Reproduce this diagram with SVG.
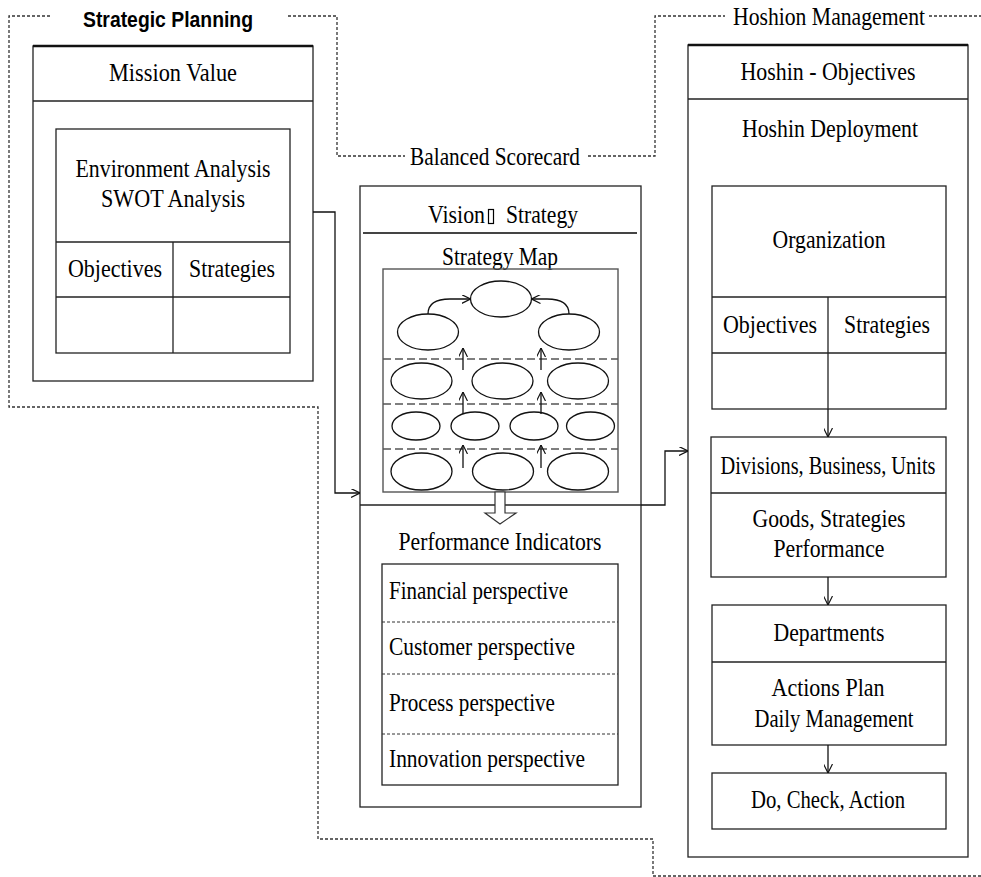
<svg xmlns="http://www.w3.org/2000/svg" width="981" height="877" viewBox="0 0 981 877">
  <style>
    .t{font-family:"Liberation Serif","Times New Roman",serif;font-size:26px;fill:#000}
    .m{text-anchor:middle}
    .title{font-family:"Liberation Sans",Arial,sans-serif;font-weight:bold;font-size:22px;fill:#000;text-anchor:middle}
    .box{fill:none;stroke:#222;stroke-width:1.3}
    .gbox{fill:none;stroke:#555;stroke-width:1.4}
    .heavy{stroke:#111;stroke-width:2.4}
    .frame{fill:none;stroke:#333;stroke-width:1.3;stroke-dasharray:3 2}
    .lane{stroke:#555;stroke-width:1.6;stroke-dasharray:8 4}
    .fine{stroke:#333;stroke-width:1;stroke-dasharray:3 2}
    .ov{fill:#fff;stroke:#111;stroke-width:1.3}
    .link{fill:none;stroke:#111;stroke-width:1.3}
  </style>
  <defs>
    <marker id="arr" viewBox="0 0 10 10" refX="10" refY="5" markerWidth="9" markerHeight="9" markerUnits="userSpaceOnUse" orient="auto">
      <path d="M0,0 L10,5 L0,10" fill="none" stroke="#111" stroke-width="1.3"/>
    </marker>
  </defs>
  <rect width="981" height="877" fill="#fff"/>

  <!-- dashed grouping frames -->
  <g id="frames">
    <path class="frame" d="M50,16 H9 V407 H318 V839 H653 V876 H981"/>
    <path class="frame" d="M288,16 H337 V156 H405"/>
    <path class="frame" d="M588,156 H655 V16 H725"/>
    <path class="frame" d="M929,16 H981"/>
    <text class="title" x="168" y="27" textLength="170" lengthAdjust="spacingAndGlyphs">Strategic Planning</text>
    <text class="t m" x="495" y="165" textLength="170" lengthAdjust="spacingAndGlyphs">Balanced Scorecard</text>
    <text class="t m" x="829" y="25" textLength="192" lengthAdjust="spacingAndGlyphs">Hoshion Management</text>
  </g>

  <!-- strategic planning -->
  <g id="strategic-planning">
    <rect class="box" x="33" y="46" width="280" height="335"/>
    <line class="heavy" x1="33" y1="46" x2="313" y2="46"/>
    <line class="box" x1="33" y1="101" x2="313" y2="101"/>
    <text class="t m" x="173" y="81" textLength="128" lengthAdjust="spacingAndGlyphs">Mission Value</text>
    <rect class="box" x="56" y="129" width="234" height="224"/>
    <line class="box" x1="56" y1="242" x2="290" y2="242"/>
    <line class="box" x1="56" y1="297" x2="290" y2="297"/>
    <line class="box" x1="173" y1="242" x2="173" y2="353"/>
    <text class="t m" x="173" y="177" textLength="195" lengthAdjust="spacingAndGlyphs">Environment Analysis</text>
    <text class="t m" x="173" y="207" textLength="144" lengthAdjust="spacingAndGlyphs">SWOT Analysis</text>
    <text class="t m" x="115" y="277" textLength="94" lengthAdjust="spacingAndGlyphs">Objectives</text>
    <text class="t m" x="232" y="277" textLength="86" lengthAdjust="spacingAndGlyphs">Strategies</text>
  </g>

  <!-- balanced scorecard -->
  <g id="balanced-scorecard">
    <rect class="box" x="360" y="186" width="281" height="621"/>
    <text class="t" x="428" y="223" font-size="22" textLength="57" lengthAdjust="spacingAndGlyphs">Vision</text>
    <!-- unrenderable separator glyph box -->
    <rect x="488.5" y="209.5" width="5" height="14" fill="none" stroke="#000" stroke-width="1.2"/>
    <text class="t" x="506" y="223" font-size="22" textLength="72" lengthAdjust="spacingAndGlyphs">Strategy</text>
    <line x1="363" y1="233" x2="637" y2="233" stroke="#444" stroke-width="2"/>
    <text class="t m" x="500" y="265" textLength="116" lengthAdjust="spacingAndGlyphs">Strategy Map</text>

    <g id="strategy-map">
      <rect class="gbox" x="383" y="269" width="235" height="223"/>
      <line class="lane" x1="383" y1="359" x2="618" y2="359"/>
      <line class="lane" x1="383" y1="404" x2="618" y2="404"/>
      <line class="lane" x1="383" y1="449" x2="618" y2="449"/>
      <!-- objectives -->
      <ellipse class="ov" cx="501" cy="299" rx="30.5" ry="18"/>
      <ellipse class="ov" cx="428" cy="332" rx="30.5" ry="18"/>
      <ellipse class="ov" cx="569" cy="332" rx="30.5" ry="18"/>
      <ellipse class="ov" cx="421.5" cy="381" rx="30.5" ry="18"/>
      <ellipse class="ov" cx="502.5" cy="381" rx="30.5" ry="18"/>
      <ellipse class="ov" cx="578" cy="381" rx="30.5" ry="18"/>
      <ellipse class="ov" cx="416" cy="426" rx="24" ry="14"/>
      <ellipse class="ov" cx="475" cy="426" rx="24" ry="14"/>
      <ellipse class="ov" cx="534" cy="426" rx="24" ry="14"/>
      <ellipse class="ov" cx="590.5" cy="426" rx="24" ry="14"/>
      <ellipse class="ov" cx="421.5" cy="471.5" rx="30.5" ry="18.5"/>
      <ellipse class="ov" cx="503" cy="471.5" rx="30.5" ry="18.5"/>
      <ellipse class="ov" cx="578" cy="471.5" rx="30.5" ry="18.5"/>
      <!-- cause and effect links -->
      <path class="link" d="M428,314 C428,303 436,299 450,299 L470.5,299" marker-end="url(#arr)"/>
      <path class="link" d="M569,314 C569,303 561,299 547,299 L531.5,299" marker-end="url(#arr)"/>
      <line class="link" x1="463" y1="370" x2="463" y2="348" marker-end="url(#arr)"/>
      <line class="link" x1="541" y1="370" x2="541" y2="348" marker-end="url(#arr)"/>
      <line class="link" x1="463" y1="414" x2="463" y2="392" marker-end="url(#arr)"/>
      <line class="link" x1="541" y1="414" x2="541" y2="392" marker-end="url(#arr)"/>
      <line class="link" x1="463" y1="468" x2="463" y2="445" marker-end="url(#arr)"/>
      <line class="link" x1="541" y1="468" x2="541" y2="445" marker-end="url(#arr)"/>
    </g>

    <line class="box" x1="360" y1="505" x2="641" y2="505"/>
    <polygon points="495,492 505,492 505,513 516,513 500,524 485,513 495,513" fill="#fff" stroke="#333" stroke-width="1.2"/>
    <text class="t m" x="500" y="550" textLength="203" lengthAdjust="spacingAndGlyphs">Performance Indicators</text>

    <g id="performance-indicators">
      <rect class="box" x="382" y="564" width="236" height="221"/>
      <line class="fine" x1="382" y1="622" x2="618" y2="622"/>
      <line class="fine" x1="382" y1="674" x2="618" y2="674"/>
      <line class="fine" x1="382" y1="734" x2="618" y2="734"/>
      <text class="t" x="389" y="599" textLength="179" lengthAdjust="spacingAndGlyphs">Financial perspective</text>
      <text class="t" x="389" y="655" textLength="186" lengthAdjust="spacingAndGlyphs">Customer perspective</text>
      <text class="t" x="389" y="711" textLength="166" lengthAdjust="spacingAndGlyphs">Process perspective</text>
      <text class="t" x="389" y="767" textLength="196" lengthAdjust="spacingAndGlyphs">Innovation perspective</text>
    </g>
  </g>

  <!-- hoshin management -->
  <g id="hoshin-management">
    <rect class="box" x="688" y="45" width="280" height="812" stroke="#444"/>
    <line class="heavy" x1="688" y1="45" x2="968" y2="45"/>
    <line class="box" x1="688" y1="99" x2="968" y2="99"/>
    <text class="t m" x="828" y="80" textLength="175" lengthAdjust="spacingAndGlyphs">Hoshin - Objectives</text>
    <text class="t m" x="830" y="137" textLength="176" lengthAdjust="spacingAndGlyphs">Hoshin Deployment</text>

    <g id="organization">
      <rect class="box" x="712" y="186" width="234" height="223"/>
      <line class="box" x1="712" y1="297" x2="946" y2="297"/>
      <line class="box" x1="712" y1="353" x2="946" y2="353"/>
      <line class="box" x1="828" y1="297" x2="828" y2="409"/>
      <text class="t m" x="829" y="248" textLength="113" lengthAdjust="spacingAndGlyphs">Organization</text>
      <text class="t m" x="770" y="333" textLength="94" lengthAdjust="spacingAndGlyphs">Objectives</text>
      <text class="t m" x="887" y="333" textLength="86" lengthAdjust="spacingAndGlyphs">Strategies</text>
    </g>

    <g id="divisions">
      <rect class="box" x="711" y="437" width="235" height="140"/>
      <line class="box" x1="711" y1="493" x2="946" y2="493"/>
      <text class="t m" x="828" y="474" font-size="20" textLength="215" lengthAdjust="spacingAndGlyphs">Divisions, Business, Units</text>
      <text class="t m" x="829" y="527" textLength="153" lengthAdjust="spacingAndGlyphs">Goods, Strategies</text>
      <text class="t m" x="829" y="557" textLength="111" lengthAdjust="spacingAndGlyphs">Performance</text>
    </g>

    <g id="departments">
      <rect class="box" x="712" y="605" width="234" height="140"/>
      <line class="box" x1="712" y1="662" x2="946" y2="662"/>
      <text class="t m" x="829" y="641" textLength="111" lengthAdjust="spacingAndGlyphs">Departments</text>
      <text class="t m" x="828" y="696" textLength="113" lengthAdjust="spacingAndGlyphs">Actions Plan</text>
      <text class="t m" x="834" y="727" textLength="159" lengthAdjust="spacingAndGlyphs">Daily Management</text>
    </g>

    <g id="do-check-action">
      <rect class="box" x="712" y="773" width="234" height="56"/>
      <text class="t m" x="828" y="808" textLength="154" lengthAdjust="spacingAndGlyphs">Do, Check, Action</text>
    </g>
  </g>

  <!-- connectors -->
  <g id="connectors">
    <path class="link" d="M313,212 H335 V493 H360" marker-end="url(#arr)"/>
    <path class="link" d="M641,505 H665 V451 H688" marker-end="url(#arr)"/>
    <line class="link" x1="828" y1="409" x2="828" y2="437" marker-end="url(#arr)"/>
    <line class="link" x1="828" y1="577" x2="828" y2="605" marker-end="url(#arr)"/>
    <line class="link" x1="828" y1="745" x2="828" y2="773" marker-end="url(#arr)"/>
  </g>
</svg>
